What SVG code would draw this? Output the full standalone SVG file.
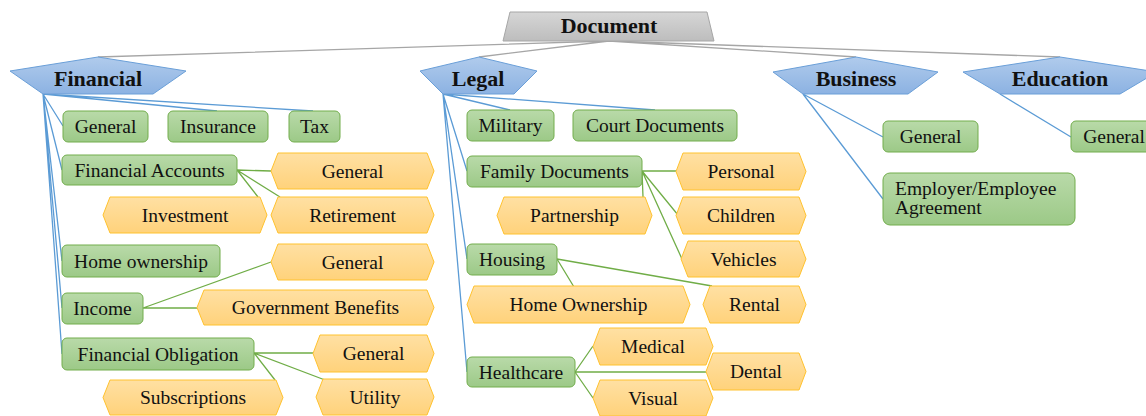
<svg xmlns="http://www.w3.org/2000/svg" width="1146" height="416" viewBox="0 0 1146 416" font-family="'Liberation Serif', 'DejaVu Serif', serif">
<defs>
<linearGradient id="gGray" x1="0" y1="0" x2="0" y2="1"><stop offset="0" stop-color="#d6d6d6"/><stop offset="1" stop-color="#bdbdbd"/></linearGradient>
<linearGradient id="gBlue" x1="0" y1="0" x2="0" y2="1"><stop offset="0" stop-color="#b0cbec"/><stop offset="1" stop-color="#8cb2e2"/></linearGradient>
<linearGradient id="gGreen" x1="0" y1="0" x2="0" y2="1"><stop offset="0" stop-color="#b9daa9"/><stop offset="1" stop-color="#9cc987"/></linearGradient>
<linearGradient id="gOrange" x1="0" y1="0" x2="0" y2="1"><stop offset="0" stop-color="#ffe0a3"/><stop offset="1" stop-color="#ffd27b"/></linearGradient>
</defs>
<style>
.doc{fill:url(#gGray);stroke:#a6a6a6;stroke-width:1}
.cat{fill:url(#gBlue);stroke:#6a9fd8;stroke-width:1}
.box{fill:url(#gGreen);stroke:#72ad4c;stroke-width:1}
.hex{fill:url(#gOrange);stroke:#ffc22e;stroke-width:1}
text{font-family:'Liberation Serif','DejaVu Serif',serif;fill:#111;text-anchor:middle}
.t{font-size:19.5px}
.b{font-size:22px;font-weight:bold}
.s{text-anchor:start}
.gl{stroke:#a6a6a6;stroke-width:1.3;fill:none}
.bl{stroke:#5b9bd5;stroke-width:1.3;fill:none}
.gr{stroke:#70ad47;stroke-width:1.3;fill:none}
</style>
<g id="connectors">
<path class="gl" d="M609,41 L98,57 M609,41 L479,57 M609,41 L856,57 M609,41 L1060,57"/>
<path class="bl" d="M43,94 L63,126 M43,94 L217,111 M43,94 L313,111 M43,94 L62,170 M43,94 L62,261 M43,94 L62,308 M43,94 L62,354"/>
<path class="bl" d="M443,94 L510,110 M443,94 L655,110 M443,94 L467,171 M443,94 L467,259 M443,94 L467,372"/>
<path class="bl" d="M803,94 L883,137 M803,94 L883,199 M1000,94 L1071,137"/>
<path class="gr" d="M237,170 L271,171 M237,170 L258,197 M237,170 L280,197 M143,308 L271,262 M143,308 L197,308 M254,353 L313,353 M254,353 L325,380 M254,353 L275,380"/>
<path class="gr" d="M642,171 L676,171 M642,171 L643,197 M642,171 L678,215 M642,171 L682,259 M557,259 L574,287 M557,259 L712,286 M575,372 L593,346 M575,372 L706,372 M575,372 L593,398"/>
</g>
<g id="document"><polygon class="doc" points="510,12 707,12 714,41 503,41"/><text class="b" x="609" y="33">Document</text></g>
<g id="financial"><polygon class="cat" points="10,71 98,57 186,71 153,94 43,94"/><text class="b" x="98" y="86">Financial</text></g>
<g id="legal"><polygon class="cat" points="420,71 479,57 537,71 514,94 443,94"/><text class="b" x="478" y="86">Legal</text></g>
<g id="business"><polygon class="cat" points="773,72 856,57 938,72 908,94 803,94"/><text class="b" x="856" y="86">Business</text></g>
<g id="education"><polygon class="cat" points="963,72 1060,57 1157,72 1120,94 1000,94"/><text class="b" x="1060" y="86">Education</text></g>

<g id="fin-general"><rect class="box" x="63" y="111" width="85" height="31" rx="5"/><text class="t" x="105.5" y="133">General</text></g>
<g id="fin-insurance"><rect class="box" x="168" y="111" width="100" height="31" rx="5"/><text class="t" x="218" y="133">Insurance</text></g>
<g id="fin-tax"><rect class="box" x="289" y="111" width="51" height="31" rx="5"/><text class="t" x="314.5" y="133">Tax</text></g>
<g id="fin-accounts"><rect class="box" x="62" y="155" width="175" height="30" rx="5"/><text class="t" x="149.5" y="176.5">Financial Accounts</text></g>
<g id="fin-home"><rect class="box" x="62" y="245" width="158" height="32" rx="5"/><text class="t" x="141" y="267.5">Home ownership</text></g>
<g id="fin-income"><rect class="box" x="62" y="293" width="81" height="31" rx="5"/><text class="t" x="102.5" y="315">Income</text></g>
<g id="fin-obligation"><rect class="box" x="62" y="338" width="192" height="32" rx="5"/><text class="t" x="158" y="360.5">Financial Obligation</text></g>

<g id="fa-general"><polygon class="hex" points="271,171 278,153 427,153 434,171 427,189 278,189"/><text class="t" x="352.5" y="177.5">General</text></g>
<g id="fa-investment"><polygon class="hex" points="103,215 110,197 260,197 267,215 260,233 110,233"/><text class="t" x="185" y="221.5">Investment</text></g>
<g id="fa-retirement"><polygon class="hex" points="271,215 278,197 427,197 434,215 427,233 278,233"/><text class="t" x="352.5" y="221.5">Retirement</text></g>
<g id="inc-general"><polygon class="hex" points="271,262 278,244 427,244 434,262 427,280 278,280"/><text class="t" x="352.5" y="268.5">General</text></g>
<g id="inc-gov"><polygon class="hex" points="197,307.5 204,290 427,290 434,307.5 427,325 204,325"/><text class="t" x="315.5" y="314">Government Benefits</text></g>
<g id="fo-general"><polygon class="hex" points="313,353.5 320,335 427,335 434,353.5 427,372 320,372"/><text class="t" x="373.5" y="360">General</text></g>
<g id="fo-subscriptions"><polygon class="hex" points="103,397.5 110,380 276,380 283,397.5 276,415 110,415"/><text class="t" x="193" y="404">Subscriptions</text></g>
<g id="fo-utility"><polygon class="hex" points="316,397 323,379 427,379 434,397 427,415 323,415"/><text class="t" x="375" y="403.5">Utility</text></g>

<g id="legal-military"><rect class="box" x="467" y="110" width="87" height="31" rx="5"/><text class="t" x="510.5" y="132">Military</text></g>
<g id="legal-court"><rect class="box" x="573" y="110" width="164" height="31" rx="5"/><text class="t" x="655" y="132">Court Documents</text></g>
<g id="legal-family"><rect class="box" x="467" y="156" width="175" height="31" rx="5"/><text class="t" x="554.5" y="178">Family Documents</text></g>
<g id="legal-housing"><rect class="box" x="467" y="244" width="90" height="31" rx="5"/><text class="t" x="512" y="266">Housing</text></g>
<g id="legal-healthcare"><rect class="box" x="467" y="357" width="108" height="30" rx="5"/><text class="t" x="521" y="378.5">Healthcare</text></g>

<g id="fd-personal"><polygon class="hex" points="676,171.5 683,153 799,153 806,171.5 799,190 683,190"/><text class="t" x="741" y="178">Personal</text></g>
<g id="fd-partnership"><polygon class="hex" points="497,215.5 504,197 645,197 652,215.5 645,234 504,234"/><text class="t" x="574.5" y="222">Partnership</text></g>
<g id="fd-children"><polygon class="hex" points="676,215.5 683,197 799,197 806,215.5 799,234 683,234"/><text class="t" x="741" y="222">Children</text></g>
<g id="fd-vehicles"><polygon class="hex" points="681,259 688,241 799,241 806,259 799,277 688,277"/><text class="t" x="743.5" y="265.5">Vehicles</text></g>
<g id="h-homeownership"><polygon class="hex" points="467,304.5 474,286 683,286 690,304.5 683,323 474,323"/><text class="t" x="578.5" y="311">Home Ownership</text></g>
<g id="h-rental"><polygon class="hex" points="703,304.5 710,286 799,286 806,304.5 799,323 710,323"/><text class="t" x="754.5" y="311">Rental</text></g>
<g id="hc-medical"><polygon class="hex" points="593,346.5 600,328 706,328 713,346.5 706,365 600,365"/><text class="t" x="653" y="353">Medical</text></g>
<g id="hc-dental"><polygon class="hex" points="706,371.5 713,353 799,353 806,371.5 799,390 713,390"/><text class="t" x="756" y="378">Dental</text></g>
<g id="hc-visual"><polygon class="hex" points="593,398 600,380 706,380 713,398 706,416 600,416"/><text class="t" x="653" y="404.5">Visual</text></g>

<g id="bus-general"><rect class="box" x="883" y="121" width="95" height="31" rx="5"/><text class="t" x="930.5" y="143">General</text></g>
<g id="bus-employer"><rect class="box" x="883" y="173" width="192" height="52" rx="7"/><text class="t s" x="895" y="194.5">Employer/Employee</text><text class="t s" x="895" y="213.5">Agreement</text></g>
<g id="edu-general"><rect class="box" x="1071" y="121" width="95" height="31" rx="5"/><text class="t" x="1114" y="143">General</text></g>
</svg>
